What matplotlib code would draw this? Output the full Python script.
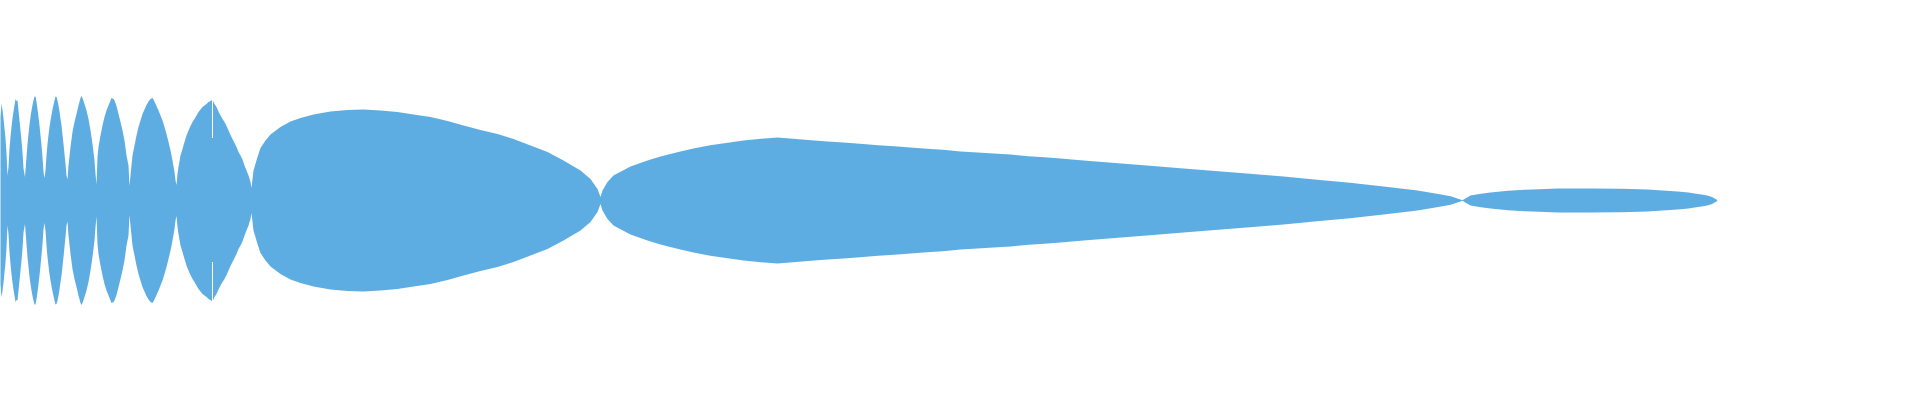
import numpy as np
import matplotlib
matplotlib.use("Agg")
import matplotlib.pyplot as plt

# Horizontal positions (pixel units along the 1920 px wide canvas) and half-thickness of the
# symmetric band (pixel units).
pos = [0, 1, 2, 3, 4, 5, 6, 7,
       8, 9, 10, 11, 12, 13, 14, 15, 16, 17, 18, 19, 20, 21, 22, 23, 24.5,
       26, 27, 28, 29, 30, 31, 32, 33, 34, 35, 36, 37, 38, 39, 40, 41, 42, 43, 44,
       45, 46, 47, 48, 49, 50, 51, 52, 53, 54, 55, 56, 57, 58, 59, 60, 61, 62, 63, 64, 65, 66, 67,
       68, 70, 72, 74, 76, 78, 80, 81, 82, 84, 86, 88, 90, 92, 94, 95, 96,
       97, 98, 100, 102, 104, 106, 108, 110, 111, 113, 114, 116, 118, 120, 122, 124, 126, 128, 129,
       130, 131, 132, 134, 136, 138, 140, 142, 144, 146, 148, 150, 152, 154, 156, 158, 160, 162,
       164, 166, 168, 170, 172, 174, 175, 176,
       177, 178, 180, 182, 184, 186, 188, 190, 192, 194, 196, 198, 200, 202, 204, 206, 208, 210,
       212, 214, 216, 218, 220, 222, 224, 226, 228, 230, 232, 234, 236, 238, 240, 242, 244, 246,
       248, 250, 251,
       253, 257, 260, 265, 270, 280, 290, 300, 313, 330, 347, 363, 380, 397, 413, 430, 447, 463,
       480, 497, 513, 530, 547, 563, 580, 590, 597, 600,
       602, 607, 613, 630, 647, 660, 677, 693, 710, 727, 743, 760, 777, 793, 810, 827, 843, 860,
       877, 893, 910, 927, 943, 960, 977, 993, 1010, 1027, 1043, 1060, 1083, 1117, 1150, 1183,
       1217, 1250, 1283, 1317, 1350, 1383, 1417, 1433, 1450, 1462,
       1470, 1480, 1490, 1507, 1523, 1540, 1557, 1590, 1623, 1647, 1662, 1677, 1688, 1696, 1703,
       1708, 1712, 1714, 1716, 1717]

half = [83.5, 97, 90.5, 82, 72, 62, 47, 25,
        33.5, 52, 63.5, 73.5, 82, 89, 95, 101.5, 99.5, 100, 90, 80, 70, 60, 48, 32, 23.5,
        43.5, 56.5, 66.5, 76, 83.5, 90, 95.5, 100, 104, 104, 98.5, 91.5, 83.5, 75, 65, 55, 43.5, 28.5, 22.5,
        30, 45, 56.5, 65.5, 73.5, 80, 85.5, 91, 95.5, 100, 104, 103.5, 100, 95, 89, 81.5, 75, 65.5, 56.5, 46.5, 36.5, 25, 21,
        35, 53.5, 68.5, 78.5, 86.5, 95, 102.5, 104.5, 102.5, 96.5, 90, 81.5, 70, 56.5, 40, 26.5, 16,
        43.5, 53.5, 65, 75, 83.5, 90, 95, 100, 102.5, 101.5, 100, 94.5, 86.5, 78.5, 70, 60, 45, 35, 14.5,
        25, 35, 45, 55, 65, 73.5, 80, 86.5, 91, 95.5, 99, 101.5, 102.5, 99, 94.5, 90, 85, 80,
        73.5, 66.5, 58.5, 50, 40, 28.5, 20, 15.5,
        26.5, 33.5, 45, 51.5, 58.5, 65, 70, 74.5, 78.5, 81.5, 85, 88.5, 91, 93.5, 95, 96.5, 98.5, 99.5,
        101, 96.5, 93.5, 89, 85, 81.5, 78.5, 74.5, 70, 65.5, 61.5, 57.5, 53.5, 48.5, 45, 41, 35, 30,
        25, 18.5, 12.5,
        30, 43.5, 52.5, 60, 66, 73.5, 79, 82.5, 86, 89, 90.5, 91, 90, 88.5, 86, 83.5, 79.5, 75,
        70.5, 66.5, 61.5, 55, 48.5, 40, 30, 21.5, 11.5, 3.5,
        10, 18.5, 25, 34, 40, 44, 48.3, 52, 55.3, 57.7, 60, 61.7, 63, 61.7, 60.3, 59, 58, 56.7,
        55.3, 54.3, 53, 51.7, 50.7, 49, 48, 47, 46, 44.3, 43.3, 42, 40, 37.3, 34.7, 32,
        29.3, 26.7, 24, 20.7, 17.7, 14, 10, 7.3, 4.3, 0.3,
        5, 6.7, 8, 9.7, 10.7, 11.3, 12, 12, 11.7, 11, 10, 9, 8, 6.7, 5.7,
        4.7, 3.3, 2, 1, 0]

# A thin break seen in the outer part of the band at one position
gap_pos = [212]
gap_inner = [62]

COLOR = "#5DADE2"

x = np.array(pos, dtype=float)
h = np.array(half, dtype=float)

fig = plt.figure(figsize=(19.2, 4.0), dpi=100)
ax = fig.add_axes([0, 0, 1, 1])
ax.fill_between(x, -h, h, color=COLOR, linewidth=0, antialiased=False)

for gp, gi in zip(gap_pos, gap_inner):
    edge = np.interp(gp + 0.5, x, h) + 3
    ax.bar([gp, gp], [edge - gi, edge - gi], bottom=[gi, -edge], width=1.0,
           align="edge", color="white", linewidth=0, antialiased=False)

ax.set_xlim(0, 1920)
ax.set_ylim(-200, 200)
ax.axis("off")
fig.savefig("out.png", dpi=100, facecolor="white")
